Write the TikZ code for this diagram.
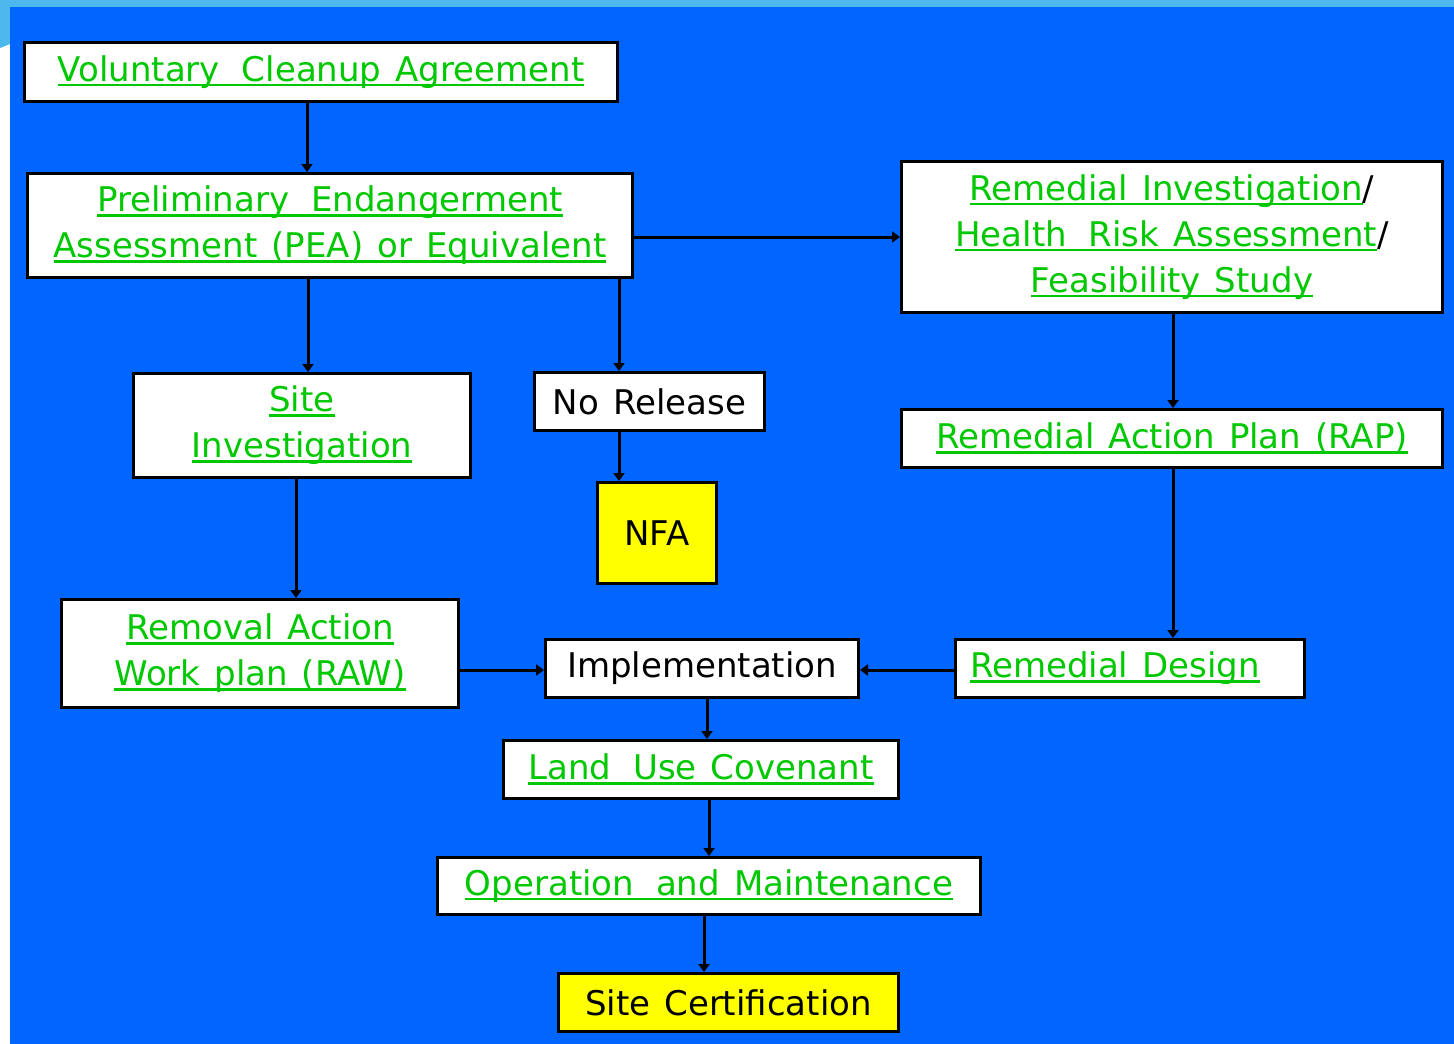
\documentclass[tikz,border=0pt]{standalone}
\usepackage{fontspec}
\setmainfont{DejaVu Sans}
\usetikzlibrary{arrows.meta}
\definecolor{bg}{RGB}{0,102,255}
\definecolor{lb}{RGB}{77,184,238}
\definecolor{lk}{RGB}{0,200,0}
\definecolor{yl}{RGB}{255,255,0}
\newcommand\lnk[1]{\setbox0\hbox{#1}\rlap{\color{lk}\rule[-5pt]{\wd0}{2.6pt}}\box0}
\newcommand\slsh{{\color{black}/}}
\newcommand\widesp{\spaceskip=14pt plus 1pt minus 1pt\relax}
\newcommand\dsp{\kern8pt\ }
\begin{document}
\begin{tikzpicture}[x=1pt,y=-1pt,
  box/.style={draw=black,line width=3pt,fill=white,inner sep=0pt,align=center,
    font=\fontsize{34}{46}\selectfont,text=lk,execute at begin node=\widesp},
  plain/.style={box,text=black},
  ybox/.style={box,fill=yl,text=black},
  arr/.style={line width=3pt,draw=black,-{Triangle[length=8pt,width=11pt]}}]
\useasboundingbox (0,0) rectangle (1454,1044);
\fill[white] (0,0) rectangle (1454,1044);
\fill[lb] (0,0) rectangle (1454,7);
\fill[lb] (0,0) -- (10,0) -- (10,44) -- (0,48) -- cycle;
\fill[bg] (10,7) rectangle (1454,1044);

\node[box,minimum width=593,minimum height=59] (vca) at (321,72) {\lnk{Voluntary\dsp Cleanup Agreement}};
\node[box,minimum width=605,minimum height=104] (pea) at (330,225.5) {\lnk{Preliminary\dsp Endangerment}\\\lnk{Assessment (PEA) or Equivalent}};
\node[box,minimum width=541,minimum height=151] (ri) at (1172,237) {\lnk{Remedial Investigation}\slsh\\\lnk{Health\dsp Risk Assessment}\slsh\\\lnk{Feasibility Study}};
\node[box,minimum width=337,minimum height=104] (si) at (302,425.5) {\lnk{Site}\\\lnk{Investigation}};
\node[plain,minimum width=230,minimum height=58] (nr) at (649.5,401.5) {No Release};
\node[ybox,minimum width=119,minimum height=101] (nfa) at (657,533) {NFA};
\node[box,minimum width=541,minimum height=58] (rap) at (1172,438.5) {\lnk{Remedial Action Plan (RAP)}};
\node[box,minimum width=397,minimum height=108] (raw) at (260,653.5) {\lnk{Removal Action}\\\lnk{Work plan (RAW)}};
\node[plain,minimum width=313,minimum height=58] (imp) at (702,668.5) {Implementation};
\node[box,minimum width=349,minimum height=58,text width=320,align=left] (rd) at (1130,668.5) {\lnk{Remedial Design}};
\node[box,minimum width=395,minimum height=58] (luc) at (701,769.5) {\lnk{Land\dsp Use Covenant}};
\node[box,minimum width=543,minimum height=57] (om) at (709,886) {\lnk{Operation\dsp and Maintenance}};
\node[ybox,minimum width=340,minimum height=58] (sc) at (728.5,1002.5) {Site Certification};

\draw[arr] (vca.south -| 307,0) -- (pea.north -| 307,0);
\draw[arr] (pea.south -| 308,0) -- (si.north -| 308,0);
\draw[arr] (pea.south -| 619,0) -- (nr.north -| 619,0);
\draw[arr] (pea.east |- 0,237) -- (ri.west |- 0,237);
\draw[arr] (nr.south -| 619,0) -- (nfa.north -| 619,0);
\draw[arr] (ri.south -| 1173,0) -- (rap.north -| 1173,0);
\draw[arr] (rap.south -| 1173,0) -- (rd.north -| 1173,0);
\draw[arr] (si.south -| 296,0) -- (raw.north -| 296,0);
\draw[arr] (raw.east |- 0,670) -- (imp.west |- 0,670);
\draw[arr] (rd.west |- 0,670) -- (imp.east |- 0,670);
\draw[arr] (imp.south -| 707,0) -- (luc.north -| 707,0);
\draw[arr] (luc.south -| 709,0) -- (om.north -| 709,0);
\draw[arr] (om.south -| 704,0) -- (sc.north -| 704,0);
\end{tikzpicture}
\end{document}
